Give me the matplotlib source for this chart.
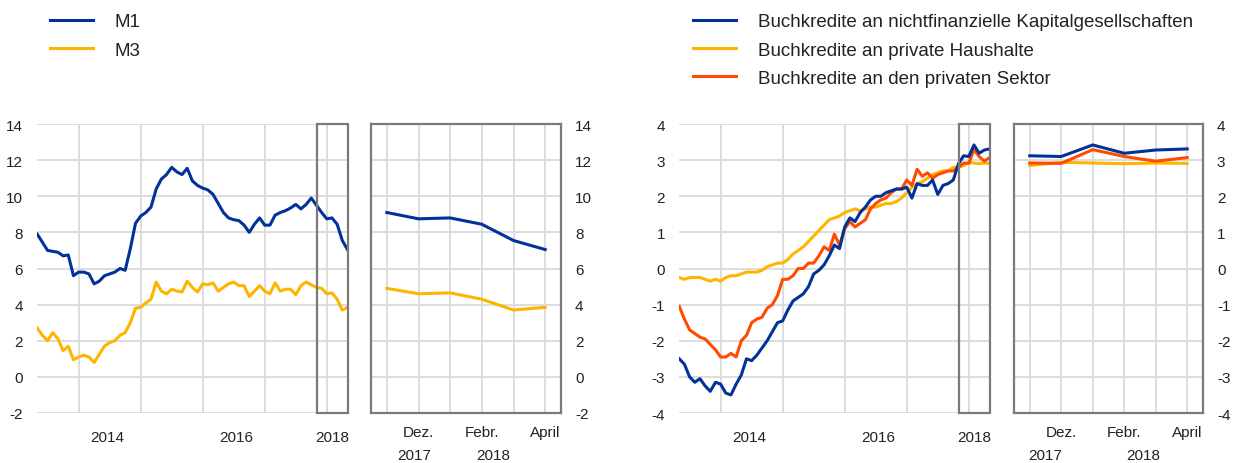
import numpy as np
import matplotlib
matplotlib.use("Agg")
import matplotlib.pyplot as plt
from matplotlib.patches import Rectangle

plt.rcParams["font.family"] = ["Liberation Sans", "DejaVu Sans"]

# monthly data, April 2013 .. April 2018
m1 = [7.9, 7.45, 7.0, 6.95, 6.9, 6.7, 6.75, 5.6, 5.8, 5.8,
      5.7, 5.15, 5.3, 5.6, 5.7, 5.8, 6.0, 5.9, 7.1, 8.5,
      8.9, 9.1, 9.4, 10.4, 10.95, 11.2, 11.6, 11.35, 11.2, 11.55,
      10.85, 10.6, 10.45, 10.35, 10.1, 9.6, 9.1, 8.8, 8.7, 8.65,
      8.4, 8.0, 8.45, 8.8, 8.4, 8.4, 8.95, 9.1, 9.2, 9.35,
      9.55, 9.3, 9.55, 9.9, 9.5, 9.1, 8.75, 8.8, 8.45, 7.55, 7.05]
m3 = [2.7, 2.3, 2.0, 2.45, 2.1, 1.45, 1.7, 0.95, 1.1, 1.2,
      1.1, 0.8, 1.25, 1.7, 1.9, 2.0, 2.3, 2.45, 3.0, 3.8,
      3.85, 4.1, 4.3, 5.25, 4.75, 4.6, 4.85, 4.75, 4.7, 5.3,
      4.95, 4.7, 5.15, 5.1, 5.2, 4.75, 4.95, 5.15, 5.25, 5.05,
      5.05, 4.45, 4.75, 5.05, 4.75, 4.6, 5.2, 4.75, 4.85, 4.85,
      4.55, 5.05, 5.25, 5.1, 4.95, 4.9, 4.6, 4.65, 4.3, 3.7, 3.85]

nfc = [-2.5, -2.65, -3.0, -3.15, -3.05, -3.25, -3.4, -3.15, -3.2, -3.45,
       -3.5, -3.2, -2.95, -2.5, -2.55, -2.4, -2.2, -2.0, -1.75, -1.5,
       -1.45, -1.15, -0.9, -0.8, -0.7, -0.5, -0.15, -0.05, 0.1, 0.35,
       0.65, 0.55, 1.15, 1.4, 1.3, 1.55, 1.7, 1.9, 2.0, 2.0,
       2.1, 2.15, 2.2, 2.2, 2.25, 1.95, 2.35, 2.3, 2.3, 2.45,
       2.05, 2.3, 2.35, 2.45, 2.9, 3.12, 3.1, 3.42, 3.19, 3.28, 3.31]
households = [-0.25, -0.3, -0.25, -0.25, -0.25, -0.3, -0.35, -0.3, -0.35, -0.25,
              -0.2, -0.2, -0.15, -0.1, -0.1, -0.1, -0.05, 0.05, 0.1, 0.15,
              0.15, 0.25, 0.4, 0.5, 0.6, 0.75, 0.9, 1.05, 1.2, 1.35,
              1.4, 1.45, 1.55, 1.6, 1.65, 1.6, 1.65, 1.7, 1.7, 1.75,
              1.8, 1.8, 1.85, 1.95, 2.1, 2.25, 2.35, 2.4, 2.5, 2.6,
              2.65, 2.7, 2.7, 2.8, 2.8, 2.85, 2.94, 2.92, 2.9, 2.92, 2.91]
private = [-1.05, -1.4, -1.7, -1.8, -1.9, -1.95, -2.1, -2.25, -2.45, -2.45,
           -2.35, -2.45, -2.0, -1.85, -1.5, -1.4, -1.35, -1.1, -1.0, -0.75,
           -0.3, -0.3, -0.2, 0.0, 0.0, 0.15, 0.15, 0.35, 0.6, 0.5,
           0.95, 0.65, 1.1, 1.3, 1.15, 1.25, 1.35, 1.65, 1.8, 1.9,
           1.95, 2.1, 2.2, 2.2, 2.45, 2.3, 2.75, 2.55, 2.65, 2.5,
           2.6, 2.65, 2.7, 2.7, 2.8, 2.92, 2.91, 3.29, 3.1, 2.97, 3.07]

year_grid = [8, 20, 32, 44, 56]          # december of each year
year_labels = ["2014", "2016", "2018"]
year_label_pos = [13.6, 38.5, 57.0]
zoom_ticks = [1, 3, 5]
zoom_labels = ["Dez.", "Febr.", "April"]
zoom_years = ["2017", "2018"]
n_zoom = 6

BLUE = "#003299"
YELLOW = "#FFB400"
ORANGE = "#FF4B00"
GRID = "#dadada"
FRAME = "#7a7a7a"
TXT = "#222222"

fig = plt.figure(figsize=(12.33, 4.64), dpi=100)

W = 1233.0
H = 464.0


def add_ax(x0, x1, y0=125, y1=414):
    return fig.add_axes([x0 / W, 1 - y1 / H, (x1 - x0) / W, (y1 - y0) / H])


def style_main(ax, ylim, yticks):
    n = len(m1)
    ax.set_xlim(-0.05, n - 1 + 0.1)
    ax.set_ylim(*ylim)
    ax.set_yticks(yticks)
    ax.set_yticklabels([str(v) for v in yticks])
    ax.set_xticks(year_grid, minor=True)
    ax.set_xticks(year_label_pos)
    ax.set_xticklabels(year_labels)
    ax.grid(True, axis="y", color=GRID, lw=1.3)
    ax.grid(True, axis="x", which="minor", color=GRID, lw=1.3)
    ax.set_axisbelow(True)
    for s in ax.spines.values():
        s.set_visible(False)
    ax.tick_params(axis="both", which="both", length=0, labelsize=11, colors=TXT)
    ax.tick_params(axis="x", pad=12)
    ax.tick_params(axis="y", pad=10)
    # highlight box for the zoomed months
    ax.add_patch(Rectangle((n - 1 - 5.9, ylim[0]), 5.9 + 0.05, ylim[1] - ylim[0],
                           fill=False, ec=FRAME, lw=1.6, zorder=5, clip_on=False))


def style_zoom(ax, ylim, yticks, year_pos):
    ax.set_xlim(-0.5, n_zoom - 0.5)
    ax.set_ylim(*ylim)
    ax.set_yticks(yticks)
    ax.set_yticklabels([str(v) for v in yticks])
    ax.yaxis.tick_right()
    ax.set_xticks([0, 2, 4], minor=True)
    ax.set_xticks(zoom_ticks)
    ax.set_xticklabels(zoom_labels)
    ax.grid(True, axis="y", color=GRID, lw=1.3)
    ax.grid(True, axis="x", which="both", color=GRID, lw=1.3)
    ax.set_axisbelow(True)
    for s in ax.spines.values():
        s.set_color(FRAME)
        s.set_linewidth(1.6)
    ax.tick_params(axis="both", which="both", length=0, labelsize=11, colors=TXT)
    ax.tick_params(axis="x", pad=9)
    ax.tick_params(axis="y", pad=10)
    for lab, xp in zip(zoom_years, year_pos):
        ax.text(xp, -0.145, lab, transform=ax.get_xaxis_transform(),
                ha="center", va="center", fontsize=11, color=TXT)


legend_kw = dict(loc="upper left", bbox_transform=fig.transFigure, frameon=False,
                 fontsize=13.5, handlelength=2.3, handletextpad=1.15,
                 labelspacing=0.6, borderpad=0, borderaxespad=0, labelcolor=TXT)

# left pair: money aggregates
ax1 = add_ax(37, 348)
x = np.arange(len(m1))
ax1.plot(x, m1, color=BLUE, lw=2.2, label="M1")
ax1.plot(x, m3, color=YELLOW, lw=2.2, label="M3")
style_main(ax1, (-2, 14), list(range(-2, 15, 2)))

ax2 = add_ax(371, 561)
xz = np.arange(n_zoom)
ax2.plot(xz, m1[-n_zoom:], color=BLUE, lw=2.2)
ax2.plot(xz, m3[-n_zoom:], color=YELLOW, lw=2.2)
style_zoom(ax2, (-2, 14), list(range(-2, 15, 2)), [0.85, 3.35])

ax1.legend(bbox_to_anchor=(50 / W, 1 - 14 / H), **legend_kw)

# right pair: loans
ax3 = add_ax(679, 990)
ax3.plot(x, households, color=YELLOW, lw=2.2, label="Buchkredite an private Haushalte")
ax3.plot(x, private, color=ORANGE, lw=2.2, label="Buchkredite an den privaten Sektor")
ax3.plot(x, nfc, color=BLUE, lw=2.2, label="Buchkredite an nichtfinanzielle Kapitalgesellschaften")
style_main(ax3, (-4, 4), list(range(-4, 5)))

ax4 = add_ax(1014, 1203)
ax4.plot(xz, households[-n_zoom:], color=YELLOW, lw=2.2)
ax4.plot(xz, private[-n_zoom:], color=ORANGE, lw=2.2)
ax4.plot(xz, nfc[-n_zoom:], color=BLUE, lw=2.2)
style_zoom(ax4, (-4, 4), list(range(-4, 5)), [0.5, 3.6])

h, l = ax3.get_legend_handles_labels()
order = [2, 0, 1]
ax3.legend([h[i] for i in order], [l[i] for i in order],
           bbox_to_anchor=(693 / W, 1 - 14 / H), **legend_kw)

fig.savefig("out.png", dpi=100)
